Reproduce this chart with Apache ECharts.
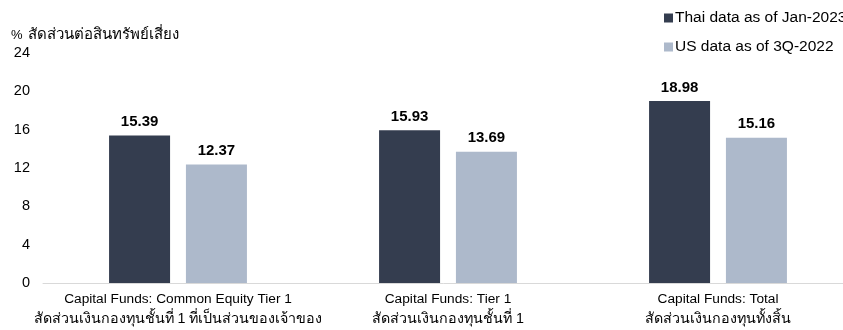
<!DOCTYPE html>
<html><head><meta charset="utf-8">
<script src="https://cdn.jsdelivr.net/npm/echarts@6/dist/echarts.min.js"></script>
<style>html,body{margin:0;padding:0;background:#fff}#c{width:843px;height:330px}</style>
</head><body><div id="c"></div>
<script>
const categoriesEn = ['Capital Funds: Common Equity Tier 1', 'Capital Funds: Tier 1', 'Capital Funds: Total'];
const categoriesTh = ['สัดส่วนเงินกองทุนชั้นที่ 1 ที่เป็นส่วนของเจ้าของ', 'สัดส่วนเงินกองทุนชั้นที่ 1', 'สัดส่วนเงินกองทุนทั้งสิ้น'];
const thaiValues = [15.39, 15.93, 18.98];
const usValues = [12.37, 13.69, 15.16];
const seriesNames = ['Thai data as of Jan-2023', 'US data as of 3Q-2022'];
const yTicks = [0, 4, 8, 12, 16, 20, 24];
const yTitlePrefix = '%';
const yTitle = 'สัดส่วนต่อสินทรัพย์เสี่ยง';

const categories = categoriesEn.map((e, i) => e + '||' + categoriesTh[i]);
const FONT = 'Liberation Sans, Arial, Noto Sans, sans-serif';
const chart = echarts.init(document.getElementById('c'), null, {renderer: 'canvas'});
chart.setOption({
  animation: false,
  textStyle: {fontFamily: FONT},
  grid: {left: 43, width: 810, top: 53, bottom: 47, containLabel: false, outerBoundsMode: 'none'},
  title: {text: '{p|' + yTitlePrefix + '} {t|' + yTitle + '}', left: 6, top: 21,
    textStyle: {fontWeight: 'normal', rich: {
      p: {fontSize: 13, fontWeight: 'normal', color: '#000', fontFamily: FONT},
      t: {fontSize: 15, fontWeight: 'normal', color: '#000', fontFamily: FONT}}}},
  legend: {
    orient: 'vertical', left: 659, top: 5, itemWidth: 9, itemHeight: 9, itemGap: 13,
    icon: 'rect', textStyle: {fontSize: 15.5, color: '#000', fontFamily: FONT, padding: [0,0,0,-3]},
    data: seriesNames
  },
  xAxis: {
    type: 'category', data: categories,
    axisLine: {lineStyle: {color: '#d9d9d9', width: 1}},
    axisTick: {show: false},
    axisLabel: {interval: 0, margin: 6, color: '#000',
      formatter: v => { const [e, t] = v.split('||'); return '{e|' + e + '}\n{t|' + t + '}'; },
      rich: {e: {fontSize: 13.7, lineHeight: 20, color: '#000', fontFamily: FONT},
             t: {fontSize: 14.3, lineHeight: 21, color: '#000', fontFamily: FONT}}}
  },
  yAxis: {
    type: 'value', min: 0, max: 24, interval: 4,
    splitLine: {show: false}, axisLine: {show: false}, axisTick: {show: false},
    axisLabel: {fontSize: 14.5, color: '#000', margin: 13, fontFamily: FONT,
      formatter: v => yTicks.includes(v) ? String(v) : ''}
  },
  series: [
    {name: seriesNames[0], type: 'bar', data: thaiValues, barWidth: 61, barGap: '26%',
     itemStyle: {color: '#343d4f'},
     label: {show: true, position: 'top', distance: 6, fontSize: 15, fontWeight: 'bold', color: '#000', formatter: p => p.value.toFixed(2)}},
    {name: seriesNames[1], type: 'bar', data: usValues, barWidth: 61,
     itemStyle: {color: '#adb9cb'},
     label: {show: true, position: 'top', distance: 6, fontSize: 15, fontWeight: 'bold', color: '#000', formatter: p => p.value.toFixed(2)}}
  ]
});
</script></body></html>
